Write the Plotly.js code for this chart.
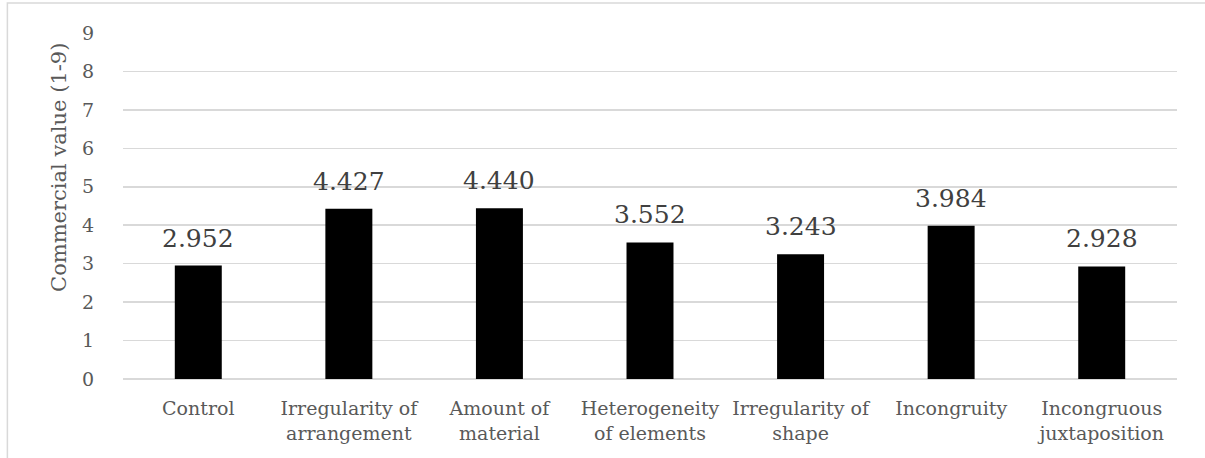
<!DOCTYPE html>
<html>
<head>
<meta charset="utf-8">
<script src="https://cdn.plot.ly/plotly-3.0.1.min.js"></script>
<style>
html,body{margin:0;padding:0;background:#fff;}
#chart{width:1205px;height:458px;}
</style>
</head>
<body>
<div id="chart"></div>
<script>
const categories = ["Control", "Irregularity of<br>arrangement", "Amount of<br>material", "Heterogeneity<br>of elements", "Irregularity of<br>shape", "Incongruity", "Incongruous<br>juxtaposition"];
const values = [2.952, 4.427, 4.440, 3.552, 3.243, 3.984, 2.928];
const labels = ["2.952", "4.427", "4.440", "3.552", "3.243", "3.984", "2.928"];
const yTicks = [0, 1, 2, 3, 4, 5, 6, 7, 8, 9];
const yTitle = "Commercial value (1-9)";

const serif = "DejaVu Serif";

const trace = {
  type: "bar",
  x: categories,
  y: values,
  marker: {color: "#000000"},
  hoverinfo: "skip"
};

const annotations = categories.map((c, i) => ({
  x: c, y: values[i], xref: "x", yref: "y",
  text: labels[i], showarrow: false,
  yanchor: "bottom", yshift: 11,
  font: {family: serif, size: 25, color: "#404040"}
}));
annotations.push({
  xref: "paper", yref: "paper", x: -0.0608, y: 0.6127,
  xanchor: "center", yanchor: "middle", textangle: -90,
  text: yTitle, showarrow: false,
  font: {family: serif, size: 21, color: "#595959"}
});

const layout = {
  width: 1205, height: 458,
  margin: {l: 123, r: 28, t: 33, b: 79},
  paper_bgcolor: "#ffffff", plot_bgcolor: "#ffffff",
  showlegend: false,
  bargap: 0.688,
  font: {family: serif},
  xaxis: {
    tickfont: {family: serif, size: 19, color: "#595959"},
    showgrid: false, zeroline: false, showline: false,
    ticks: "", automargin: false, ticklabelstandoff: 16
  },
  yaxis: {
    range: [0, 9],
    tickvals: yTicks,
    tickfont: {family: serif, size: 19, color: "#595959"},
    showgrid: true, gridcolor: "#d9d9d9", gridwidth: 1.5,
    zeroline: true, zerolinecolor: "#d9d9d9", zerolinewidth: 1.5,
    showline: false, ticks: "", ticklabelstandoff: 28,
    automargin: false
  },
  annotations: annotations,
  shapes: [
    {type: "rect", xref: "paper", yref: "paper", x0: -0.1097, x1: 1.2, y0: -0.5, y1: 1.0867,
     line: {color: "#d9d9d9", width: 1.5}, fillcolor: "rgba(0,0,0,0)", layer: "below"}
  ]
};

Plotly.newPlot("chart", [trace], layout, {displayModeBar: false, staticPlot: true});
</script>
</body>
</html>
